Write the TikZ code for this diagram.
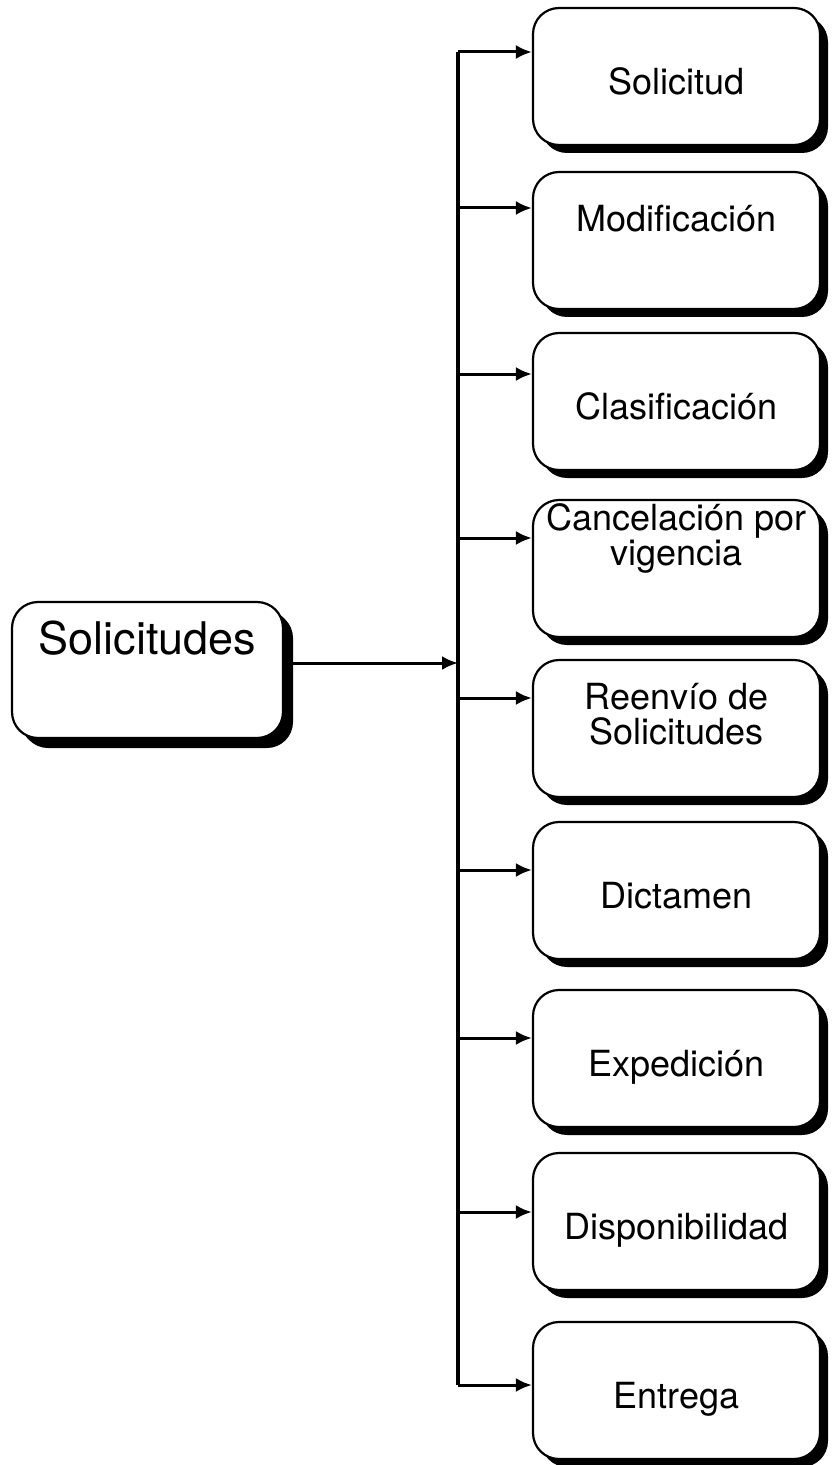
\documentclass[tikz,border=0pt]{standalone}
\usepackage{fontspec}
\setmainfont{TeX Gyre Heros}
\usetikzlibrary{arrows.meta,shadows}
\tikzset{
	tbox/.style={draw, line width=1.1pt, fill=white, rounded corners=13pt, minimum width=143.5pt, minimum height=68.5pt, inner xsep=1pt, inner ysep=0pt, align=center, font=\fontsize{18}{17.5}\selectfont, text height=20pt, text depth=2pt, drop shadow={shadow xshift=4pt, shadow yshift=-4pt, opacity=1, fill=black}},
	mainbox/.style={tbox, minimum width=135.5pt, minimum height=68pt, font=\fontsize{22.5}{24}\selectfont, text height=16pt, text depth=32pt, drop shadow={shadow xshift=5pt, shadow yshift=-5pt, opacity=1, fill=black}},
	arr/.style={line width=1.5pt, -{Latex[length=8pt,width=7pt]}},
	spine/.style={line width=1.8pt}
}

\begin{document}
\begin{tikzpicture}[x=0.5pt, y=-0.5pt]
			%%%%% START %%%%%
			
			\useasboundingbox (0, 0) rectangle (831, 1465);
			\fill[white] (0, 0) rectangle (831, 1465);
			
			\node[mainbox] (soli) at (147.5, 670) {Solicitudes};
			
			\node[tbox] (sol) at (676.5, 76.5) {Solicitud};
			\node[tbox, text height=13pt, text depth=21.5pt] (mod) at (676.5, 240.5) {Modificación};
			\node[tbox] (cla) at (676.5, 401.5) {Clasificación};
			\node[tbox, text height=13pt, text depth=16.5pt] (can) at (676.5, 568.5) {Cancelación por\\vigencia};
			\node[tbox, text height=20pt, text depth=4.5pt] (ree) at (676.5, 728.5) {Reenvío de\\Solicitudes};
			\node[tbox] (dic) at (676.5, 890.5) {Dictamen};
			\node[tbox] (exp) at (676.5, 1058.5) {Expedición};
			\node[tbox] (dis) at (676.5, 1221.5) {Disponibilidad};
			\node[tbox] (ent) at (676.5, 1390.5) {Entrega};
			
			\coordinate (s1) at (458, 52);
			\coordinate (s2) at (458, 208);
			\coordinate (s3) at (458, 374);
			\coordinate (s4) at (458, 538);
			\coordinate (s5) at (458, 698);
			\coordinate (s6) at (458, 870);
			\coordinate (s7) at (458, 1038);
			\coordinate (s8) at (458, 1212);
			\coordinate (s9) at (458, 1385);
			
			\draw[spine] (s1) -- (s9);
			\draw[arr] ([yshift=3.5pt]soli.east) -- ([yshift=3.5pt]soli.east -| s1);
			
			\draw[arr] (s1) -- (s1 -| sol.west);
			\draw[arr] (s2) -- (s2 -| mod.west);
			\draw[arr] (s3) -- (s3 -| cla.west);
			\draw[arr] (s4) -- (s4 -| can.west);
			\draw[arr] (s5) -- (s5 -| ree.west);
			\draw[arr] (s6) -- (s6 -| dic.west);
			\draw[arr] (s7) -- (s7 -| exp.west);
			\draw[arr] (s8) -- (s8 -| dis.west);
			\draw[arr] (s9) -- (s9 -| ent.west);
			
			%%%%% END %%%%%
\end{tikzpicture}
\end{document}
